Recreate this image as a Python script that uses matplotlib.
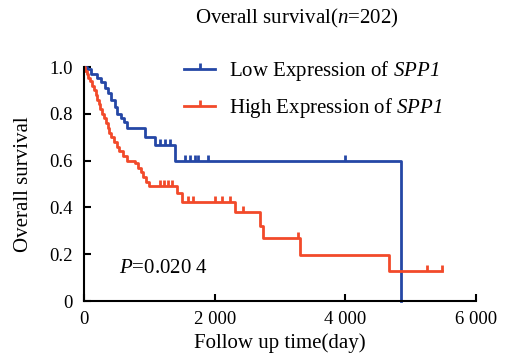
import matplotlib
matplotlib.use("Agg")
import matplotlib.pyplot as plt
from matplotlib.path import Path
import numpy as np

plt.rcParams['font.family'] = ['Liberation Serif', 'DejaVu Serif']
plt.rcParams['mathtext.fontset'] = 'custom'
plt.rcParams['mathtext.rm'] = 'Liberation Serif'
plt.rcParams['mathtext.it'] = 'Liberation Serif:italic'
# sf slot used for fully italic gene name (digits included)
plt.rcParams['mathtext.sf'] = 'Liberation Serif:italic'

# Kaplan-Meier step data
low_times = [0, 50, 100, 200, 260, 320, 370, 420, 470, 505, 560, 612, 658, 934, 1087, 1393, 4847]
low_surv = [1.0, 0.99, 0.97, 0.955, 0.935, 0.91, 0.89, 0.86, 0.83, 0.80, 0.78, 0.765, 0.74, 0.70, 0.667, 0.60, 0.0]
low_cens_t = [1163, 1240, 1317, 1546, 1622, 1699, 1745, 1898, 3995]
low_cens_s = [0.667, 0.667, 0.667, 0.60, 0.60, 0.60, 0.60, 0.60, 0.60]

high_times = [0, 20, 40, 60, 90, 120, 150, 180, 205, 230, 250, 275, 300, 330, 360, 390, 420,
              460, 500, 540, 600, 658, 780, 827, 870, 910, 950, 1000, 1420, 1500, 2311,
              2694, 2740, 3306, 4669]
high_surv = [1.0, 0.985, 0.97, 0.955, 0.94, 0.92, 0.90, 0.88, 0.86, 0.84, 0.82, 0.80, 0.78,
             0.76, 0.74, 0.72, 0.70, 0.68, 0.66, 0.64, 0.62, 0.60, 0.59, 0.57, 0.55, 0.53,
             0.51, 0.49, 0.46, 0.424, 0.38, 0.32, 0.27, 0.197, 0.13]
high_end = 5480
high_cens_t = [1163, 1225, 1286, 1347, 1592, 1668, 2005, 2112, 2235, 2434, 3270, 5245, 5480]
high_cens_s = [0.49, 0.49, 0.49, 0.49, 0.424, 0.424, 0.424, 0.424, 0.424, 0.38, 0.27, 0.13, 0.13]

x_ticks = [0, 2000, 4000, 6000]
x_tick_labels = ["0", "2 000", "4 000", "6 000"]
y_ticks = [0, 0.2, 0.4, 0.6, 0.8, 1.0]
y_tick_labels = ["0", "0.2", "0.4", "0.6", "0.8", "1.0"]

blue = "#2547a6"
red = "#f24a2a"
fs = 13.5      # tick labels
fs_big = 15    # title, labels, legend, P value
lw = 2.0
ms = 8

# censor mark: short upward tick
tick_mark = Path([(0, 0), (0, 1)], [Path.MOVETO, Path.LINETO])

fig = plt.figure(figsize=(5.13, 3.59), dpi=100)
ax = fig.add_axes([84 / 513, 1 - 301 / 359, 392 / 513, 234 / 359])

ax.step(low_times, low_surv, where="post", color=blue, lw=lw, clip_on=False)
ax.step(high_times + [high_end], high_surv + [high_surv[-1]], where="post", color=red, lw=lw, clip_on=False)
ax.plot(low_cens_t, low_cens_s, ls="none", marker=tick_mark, ms=ms, mew=lw, color=blue, clip_on=False)
ax.plot(high_cens_t, high_cens_s, ls="none", marker=tick_mark, ms=ms, mew=lw, color=red, clip_on=False)

# legend proxies
ax.plot([], [], color=blue, lw=lw, marker=tick_mark, ms=ms, mew=lw,
        label=r"Low Expression of $\mathsf{SPP1}$")
ax.plot([], [], color=red, lw=lw, marker=tick_mark, ms=ms, mew=lw,
        label=r"High Expression of $\mathsf{SPP1}$")
leg = ax.legend(loc="upper left", bbox_to_anchor=(0.235, 1.068), frameon=False, fontsize=fs_big,
                handlelength=1.45, handletextpad=0.7, labelspacing=0.6, numpoints=1,
                borderaxespad=0)

ax.set_xlim(0, 6000)
ax.set_ylim(0, 1.0)
ax.set_xticks(x_ticks)
ax.set_xticklabels(x_tick_labels)
ax.set_yticks(y_ticks)
ax.set_yticklabels(y_tick_labels)
ax.tick_params(direction="in", length=5, width=1.5, labelsize=fs)
ax.tick_params(axis="x", pad=7)
ax.tick_params(axis="y", pad=8)

ax.spines["top"].set_visible(False)
ax.spines["right"].set_visible(False)
ax.spines["left"].set_linewidth(1.5)
ax.spines["bottom"].set_linewidth(1.5)

ax.set_xlabel("Follow up time(day)", fontsize=fs_big, labelpad=4)
ax.set_ylabel("Overall survival", fontsize=fs_big, labelpad=12)

fig.text(297 / 513, 1 - 18 / 359, r"Overall survival($\mathit{n}$=202)", ha="center", va="center", fontsize=fs_big)
ax.text(540, 0.14, r"$\mathit{P}$=0.020 4", fontsize=fs_big, va="center")

fig.savefig("out.png", dpi=100)
